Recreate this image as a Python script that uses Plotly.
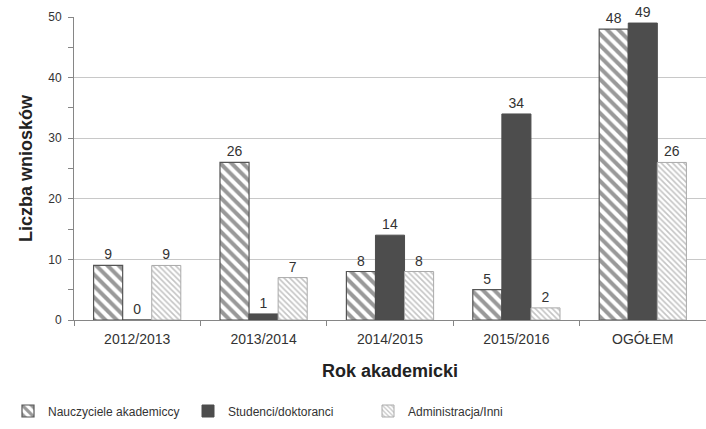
import plotly.graph_objects as go

years = ["2012/2013", "2013/2014", "2014/2015", "2015/2016", "OGÓŁEM"]
nauczyciele = [9, 26, 8, 5, 48]
studenci = [0, 1, 14, 34, 49]
administracja = [9, 7, 8, 2, 26]

font_family = "Liberation Sans, Arial, sans-serif"
dark = "#4d4d4d"

fig = go.Figure()

fig.add_trace(go.Bar(
    x=years, y=nauczyciele, name="Nauczyciele akademiccy",
    text=nauczyciele, textposition="outside", cliponaxis=False,
    marker=dict(
        color="white",
        line=dict(color="#555555", width=1.2),
        pattern=dict(shape="\\", fgcolor="#333333", bgcolor="white",
                     size=8, solidity=0.5),
    ),
))
fig.add_trace(go.Bar(
    x=years, y=studenci, name="Studenci/doktoranci",
    text=studenci, textposition="outside", cliponaxis=False,
    marker=dict(color=dark, line=dict(color=dark, width=1)),
))
fig.add_trace(go.Bar(
    x=years, y=administracja, name="Administracja/Inni",
    text=administracja, textposition="outside", cliponaxis=False,
    marker=dict(
        color="white",
        line=dict(color="#aaaaaa", width=1),
        pattern=dict(shape="\\", fgcolor="#8a8a8a", bgcolor="white",
                     size=4, solidity=0.4),
    ),
))

fig.update_traces(textfont=dict(family=font_family, size=14, color="#333333"))

fig.update_layout(
    width=706, height=429,
    margin=dict(l=74, r=0, t=17, b=109, autoexpand=False),
    paper_bgcolor="white", plot_bgcolor="white",
    barmode="group", bargap=0.31, bargroupgap=0,
    font=dict(family=font_family, size=13, color="#333333"),
    showlegend=True,
    legend=dict(
        orientation="h", xref="container", yref="container",
        x=8 / 706, y=1 - 411 / 429, xanchor="left", yanchor="middle",
        entrywidth=135, font=dict(size=12, color="#333333"),
        itemwidth=30,
    ),
)

fig.update_xaxes(
    automargin=False,
    showline=True, linecolor="#868686", linewidth=1,
    ticks="outside", ticklen=5, tickcolor="#868686", tickson="boundaries",
    ticklabelstandoff=6,
    tickfont=dict(size=14, color="#333333"),
    title=dict(text="<b>Rok akademicki</b>", font=dict(size=18, color="#222222"), standoff=18),
)
fig.update_yaxes(
    automargin=False,
    range=[0, 50], dtick=10,
    showline=True, linecolor="#868686", linewidth=1,
    ticks="outside", ticklen=5, tickcolor="#868686",
    ticklabelstandoff=4,
    minor=dict(dtick=5, ticks="outside", ticklen=5, tickcolor="#868686", showgrid=False),
    showgrid=True, gridcolor="#c8c8c8", gridwidth=1,
    zeroline=False,
    tickfont=dict(size=12, color="#333333"),
    title=dict(text="<b>Liczba wniosków</b>", font=dict(size=18, color="#222222"), standoff=10),
)

# the page body has a default 8px margin; remove it so the figure fills the window
fig.write_html("out.html", config={"displayModeBar": False},
               post_script="document.body.style.margin='0px';")
